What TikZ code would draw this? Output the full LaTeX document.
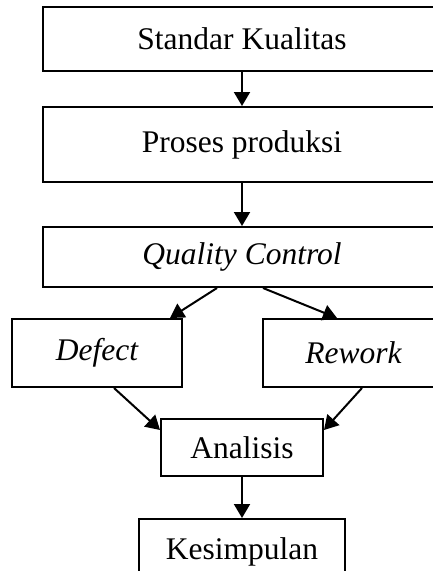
\documentclass[tikz,border=0pt]{standalone}
\usepackage{fontspec}
\setmainfont{Liberation Serif}
\usetikzlibrary{arrows.meta}
\begin{document}
\begin{tikzpicture}[x=1pt,y=-1pt,
  box/.style={draw=black,line width=2pt,fill=white,inner sep=0pt,anchor=center,
    font=\fontsize{31.5}{36}\selectfont},
  arr/.style={line width=2pt,-{Triangle[length=14pt,width=16pt]}}]
\useasboundingbox (0,0) rectangle (433,571);
\clip (0,0) rectangle (433,571);
\fill[white] (0,0) rectangle (433,571);
\node[box,minimum width=398pt,minimum height=64pt] (sk) at (242,39) {Standar Kualitas};
\node[box,minimum width=398pt,minimum height=75pt] (pp) at (242,144.5) {Proses produksi};
\node[box,minimum width=398pt,minimum height=60pt] (qc) at (242,257) {\itshape Quality Control};
\node[box,minimum width=170pt,minimum height=68pt] (def) at (97,353) {\itshape Defect};
\node[box,minimum width=181pt,minimum height=68pt] (rew) at (353.5,353) {\itshape Rework};
\node[box,minimum width=162pt,minimum height=57pt] (ana) at (242,447.5) {Analisis};
\node[box,minimum width=206pt,minimum height=66pt] (kes) at (242,552) {Kesimpulan};
\draw[arr] (sk.south) -- (pp.north);
\draw[arr] (pp.south) -- (qc.north);
\draw[arr] (qc.south -| 217,0) -- (def.north -| 170,0);
\draw[arr] (qc.south -| 263,0) -- (rew.north -| 337,0);
\draw[arr] (def.south -| 114,0) -- (ana.west |- 0,430);
\draw[arr] (rew.south -| 362,0) -- (ana.east |- 0,430);
\draw[arr] (ana.south) -- (kes.north);
\end{tikzpicture}
\end{document}
